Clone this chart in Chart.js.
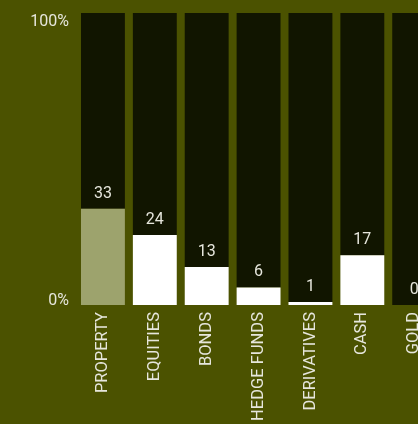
<!DOCTYPE html>
<html>
<head>
<meta charset="utf-8">
<script src="https://cdn.jsdelivr.net/npm/chart.js@4"></script>
<style>
    html, body { margin: 0; padding: 0; background: #4b5200; overflow: hidden; }
    #wrap { width: 441px; height: 424px; }
</style>
</head>
<body>
<div id="wrap"><canvas id="allocChart" width="441" height="424"></canvas></div>
<script>
// data
const categories = ["PROPERTY", "EQUITIES", "BONDS", "HEDGE FUNDS", "DERIVATIVES", "CASH", "GOLD"];
const shares = [33, 24, 13, 6, 1, 17, 0];
const yTickLabels = ["0%", "100%"];

const fillColors = shares.map((v, i) => i === 0 ? "#9da36d" : "#ffffff");
const restOfBar = shares.map(v => 100 - v);

const textColor = "#e6e6dc";
const fontFamily = "Roboto, 'Liberation Sans', sans-serif";

// draws the value above each fill and the two y labels
const labelsPlugin = {
    id: "labels",
    afterDatasetsDraw(chart) {
        const ctx = chart.ctx;
        const y = chart.scales.y;
        const meta = chart.getDatasetMeta(0);
        ctx.save();
        ctx.fillStyle = textColor;
        ctx.font = "16px " + fontFamily;
        ctx.textAlign = "center";
        ctx.textBaseline = "middle";
        meta.data.forEach((bar, i) => {
            ctx.fillText(String(shares[i]), bar.x, y.getPixelForValue(shares[i]) - 15);
        });
        ctx.textAlign = "right";
        ctx.textBaseline = "top";
        ctx.fillText(yTickLabels[1], 69, y.getPixelForValue(100) + 1);
        ctx.textBaseline = "alphabetic";
        ctx.fillText(yTickLabels[0], 69, y.getPixelForValue(0));
        ctx.restore();
    }
};

const ctx = document.getElementById("allocChart").getContext("2d");
new Chart(ctx, {
    type: "bar",
    data: {
        labels: categories,
        datasets: [
            {
                label: "Share",
                data: shares,
                backgroundColor: fillColors,
                borderWidth: 0,
            },
            {
                label: "Rest",
                data: restOfBar,
                backgroundColor: "#111500",
                borderWidth: 0,
            },
        ],
    },
    options: {
        responsive: false,
        animation: false,
        layout: { padding: { left: 77, top: 13, right: 0, bottom: 0 } },
        barPercentage: 44 / 52,
        categoryPercentage: 1,
        plugins: {
            legend: { display: false },
            tooltip: { enabled: false },
        },
        scales: {
            x: {
                stacked: true,
                grid: { display: false, drawTicks: false },
                border: { display: false },
                ticks: {
                    color: textColor,
                    font: { family: fontFamily, size: 16.5 },
                    minRotation: 90,
                    maxRotation: 90,
                    padding: 7,
                    autoSkip: false,
                },
                afterFit: (scale) => { scale.height = 119; },
            },
            y: {
                stacked: true,
                display: false,
                min: 0,
                max: 100,
            },
        },
    },
    plugins: [labelsPlugin],
});
</script>
</body>
</html>
